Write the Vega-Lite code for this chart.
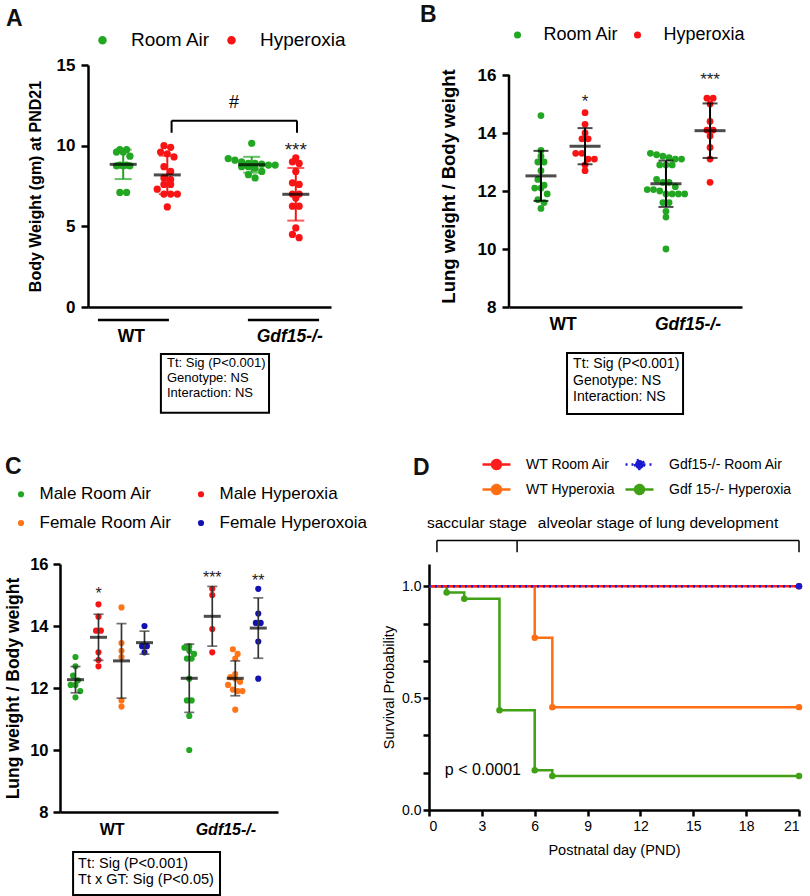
{
"$schema":"https://vega.github.io/schema/vega-lite/v6.json",
"padding":{"left":4,"top":4,"right":0,"bottom":0},
"datasets":{
"bw":[
{"genotype":"WT","treatment":"Room Air","value":9.75},{"genotype":"WT","treatment":"Room Air","value":9.75},{"genotype":"WT","treatment":"Room Air","value":9.6},{"genotype":"WT","treatment":"Room Air","value":9.6},{"genotype":"WT","treatment":"Room Air","value":9.35},{"genotype":"WT","treatment":"Room Air","value":8.8},{"genotype":"WT","treatment":"Room Air","value":8.8},{"genotype":"WT","treatment":"Room Air","value":8.75},{"genotype":"WT","treatment":"Room Air","value":8.75},{"genotype":"WT","treatment":"Room Air","value":8.75},{"genotype":"WT","treatment":"Room Air","value":7.1},{"genotype":"WT","treatment":"Room Air","value":7.1},
{"genotype":"WT","treatment":"Hyperoxia","value":10.0},{"genotype":"WT","treatment":"Hyperoxia","value":9.9},{"genotype":"WT","treatment":"Hyperoxia","value":9.6},{"genotype":"WT","treatment":"Hyperoxia","value":9.5},{"genotype":"WT","treatment":"Hyperoxia","value":9.3},{"genotype":"WT","treatment":"Hyperoxia","value":8.7},{"genotype":"WT","treatment":"Hyperoxia","value":8.4},{"genotype":"WT","treatment":"Hyperoxia","value":8.0},{"genotype":"WT","treatment":"Hyperoxia","value":7.9},{"genotype":"WT","treatment":"Hyperoxia","value":7.6},{"genotype":"WT","treatment":"Hyperoxia","value":7.6},{"genotype":"WT","treatment":"Hyperoxia","value":7.3},{"genotype":"WT","treatment":"Hyperoxia","value":7.0},{"genotype":"WT","treatment":"Hyperoxia","value":7.0},{"genotype":"WT","treatment":"Hyperoxia","value":7.0},{"genotype":"WT","treatment":"Hyperoxia","value":6.2},
{"genotype":"Gdf15-/-","treatment":"Room Air","value":10.15},{"genotype":"Gdf15-/-","treatment":"Room Air","value":9.2},{"genotype":"Gdf15-/-","treatment":"Room Air","value":9.1},{"genotype":"Gdf15-/-","treatment":"Room Air","value":9.0},{"genotype":"Gdf15-/-","treatment":"Room Air","value":8.9},{"genotype":"Gdf15-/-","treatment":"Room Air","value":8.9},{"genotype":"Gdf15-/-","treatment":"Room Air","value":8.85},{"genotype":"Gdf15-/-","treatment":"Room Air","value":8.8},{"genotype":"Gdf15-/-","treatment":"Room Air","value":8.8},{"genotype":"Gdf15-/-","treatment":"Room Air","value":8.7},{"genotype":"Gdf15-/-","treatment":"Room Air","value":8.7},{"genotype":"Gdf15-/-","treatment":"Room Air","value":8.6},{"genotype":"Gdf15-/-","treatment":"Room Air","value":8.4},{"genotype":"Gdf15-/-","treatment":"Room Air","value":8.2},{"genotype":"Gdf15-/-","treatment":"Room Air","value":8.0},
{"genotype":"Gdf15-/-","treatment":"Hyperoxia","value":9.25},{"genotype":"Gdf15-/-","treatment":"Hyperoxia","value":9.0},{"genotype":"Gdf15-/-","treatment":"Hyperoxia","value":8.9},{"genotype":"Gdf15-/-","treatment":"Hyperoxia","value":8.4},{"genotype":"Gdf15-/-","treatment":"Hyperoxia","value":7.7},{"genotype":"Gdf15-/-","treatment":"Hyperoxia","value":7.6},{"genotype":"Gdf15-/-","treatment":"Hyperoxia","value":7.0},{"genotype":"Gdf15-/-","treatment":"Hyperoxia","value":7.0},{"genotype":"Gdf15-/-","treatment":"Hyperoxia","value":6.75},{"genotype":"Gdf15-/-","treatment":"Hyperoxia","value":6.25},{"genotype":"Gdf15-/-","treatment":"Hyperoxia","value":6.25},{"genotype":"Gdf15-/-","treatment":"Hyperoxia","value":4.9},{"genotype":"Gdf15-/-","treatment":"Hyperoxia","value":4.5},{"genotype":"Gdf15-/-","treatment":"Hyperoxia","value":4.3}
],
"lw":[
{"genotype":"WT","treatment":"Room Air","value":14.6},{"genotype":"WT","treatment":"Room Air","value":13.4},{"genotype":"WT","treatment":"Room Air","value":13.2},{"genotype":"WT","treatment":"Room Air","value":13.0},{"genotype":"WT","treatment":"Room Air","value":13.0},{"genotype":"WT","treatment":"Room Air","value":12.7},{"genotype":"WT","treatment":"Room Air","value":12.4},{"genotype":"WT","treatment":"Room Air","value":12.2},{"genotype":"WT","treatment":"Room Air","value":12.1},{"genotype":"WT","treatment":"Room Air","value":12.1},{"genotype":"WT","treatment":"Room Air","value":11.9},{"genotype":"WT","treatment":"Room Air","value":11.7},{"genotype":"WT","treatment":"Room Air","value":11.6},{"genotype":"WT","treatment":"Room Air","value":11.4},
{"genotype":"WT","treatment":"Hyperoxia","value":14.7},{"genotype":"WT","treatment":"Hyperoxia","value":14.3},{"genotype":"WT","treatment":"Hyperoxia","value":14.0},{"genotype":"WT","treatment":"Hyperoxia","value":13.8},{"genotype":"WT","treatment":"Hyperoxia","value":13.8},{"genotype":"WT","treatment":"Hyperoxia","value":13.3},{"genotype":"WT","treatment":"Hyperoxia","value":13.3},{"genotype":"WT","treatment":"Hyperoxia","value":13.1},{"genotype":"WT","treatment":"Hyperoxia","value":13.1},{"genotype":"WT","treatment":"Hyperoxia","value":12.9},{"genotype":"WT","treatment":"Hyperoxia","value":12.7},
{"genotype":"Gdf15-/-","treatment":"Room Air","value":13.3},{"genotype":"Gdf15-/-","treatment":"Room Air","value":13.25},{"genotype":"Gdf15-/-","treatment":"Room Air","value":13.2},{"genotype":"Gdf15-/-","treatment":"Room Air","value":13.15},{"genotype":"Gdf15-/-","treatment":"Room Air","value":13.1},{"genotype":"Gdf15-/-","treatment":"Room Air","value":13.1},{"genotype":"Gdf15-/-","treatment":"Room Air","value":12.9},{"genotype":"Gdf15-/-","treatment":"Room Air","value":12.9},{"genotype":"Gdf15-/-","treatment":"Room Air","value":12.9},{"genotype":"Gdf15-/-","treatment":"Room Air","value":12.4},{"genotype":"Gdf15-/-","treatment":"Room Air","value":12.3},{"genotype":"Gdf15-/-","treatment":"Room Air","value":12.3},{"genotype":"Gdf15-/-","treatment":"Room Air","value":12.15},{"genotype":"Gdf15-/-","treatment":"Room Air","value":12.05},{"genotype":"Gdf15-/-","treatment":"Room Air","value":12.05},{"genotype":"Gdf15-/-","treatment":"Room Air","value":12.0},{"genotype":"Gdf15-/-","treatment":"Room Air","value":11.9},{"genotype":"Gdf15-/-","treatment":"Room Air","value":11.9},{"genotype":"Gdf15-/-","treatment":"Room Air","value":11.9},{"genotype":"Gdf15-/-","treatment":"Room Air","value":11.9},{"genotype":"Gdf15-/-","treatment":"Room Air","value":11.6},{"genotype":"Gdf15-/-","treatment":"Room Air","value":11.6},{"genotype":"Gdf15-/-","treatment":"Room Air","value":11.3},{"genotype":"Gdf15-/-","treatment":"Room Air","value":11.1},{"genotype":"Gdf15-/-","treatment":"Room Air","value":10.0},
{"genotype":"Gdf15-/-","treatment":"Hyperoxia","value":15.2},{"genotype":"Gdf15-/-","treatment":"Hyperoxia","value":15.2},{"genotype":"Gdf15-/-","treatment":"Hyperoxia","value":15.0},{"genotype":"Gdf15-/-","treatment":"Hyperoxia","value":14.4},{"genotype":"Gdf15-/-","treatment":"Hyperoxia","value":14.1},{"genotype":"Gdf15-/-","treatment":"Hyperoxia","value":14.1},{"genotype":"Gdf15-/-","treatment":"Hyperoxia","value":13.9},{"genotype":"Gdf15-/-","treatment":"Hyperoxia","value":13.5},{"genotype":"Gdf15-/-","treatment":"Hyperoxia","value":13.1},{"genotype":"Gdf15-/-","treatment":"Hyperoxia","value":12.3}
],
"lwsex":[
{"genotype":"WT","group":"Male Room Air","value":13.0},{"genotype":"WT","group":"Male Room Air","value":12.7},{"genotype":"WT","group":"Male Room Air","value":12.4},{"genotype":"WT","group":"Male Room Air","value":12.25},{"genotype":"WT","group":"Male Room Air","value":12.1},{"genotype":"WT","group":"Male Room Air","value":12.1},{"genotype":"WT","group":"Male Room Air","value":11.9},{"genotype":"WT","group":"Male Room Air","value":11.7},
{"genotype":"WT","group":"Male Hyperoxia","value":14.7},{"genotype":"WT","group":"Male Hyperoxia","value":14.3},{"genotype":"WT","group":"Male Hyperoxia","value":13.85},{"genotype":"WT","group":"Male Hyperoxia","value":13.85},{"genotype":"WT","group":"Male Hyperoxia","value":13.15},{"genotype":"WT","group":"Male Hyperoxia","value":12.9},{"genotype":"WT","group":"Male Hyperoxia","value":12.7},
{"genotype":"WT","group":"Female Room Air","value":14.6},{"genotype":"WT","group":"Female Room Air","value":13.45},{"genotype":"WT","group":"Female Room Air","value":13.2},{"genotype":"WT","group":"Female Room Air","value":13.0},{"genotype":"WT","group":"Female Room Air","value":11.6},{"genotype":"WT","group":"Female Room Air","value":11.4},
{"genotype":"WT","group":"Female Hyperoxoia","value":14.0},{"genotype":"WT","group":"Female Hyperoxoia","value":13.35},{"genotype":"WT","group":"Female Hyperoxoia","value":13.35},{"genotype":"WT","group":"Female Hyperoxoia","value":13.15},
{"genotype":"Gdf15-/-","group":"Male Room Air","value":13.35},{"genotype":"Gdf15-/-","group":"Male Room Air","value":13.3},{"genotype":"Gdf15-/-","group":"Male Room Air","value":13.2},{"genotype":"Gdf15-/-","group":"Male Room Air","value":13.1},{"genotype":"Gdf15-/-","group":"Male Room Air","value":12.95},{"genotype":"Gdf15-/-","group":"Male Room Air","value":12.95},{"genotype":"Gdf15-/-","group":"Male Room Air","value":12.3},{"genotype":"Gdf15-/-","group":"Male Room Air","value":11.6},{"genotype":"Gdf15-/-","group":"Male Room Air","value":11.6},{"genotype":"Gdf15-/-","group":"Male Room Air","value":11.1},{"genotype":"Gdf15-/-","group":"Male Room Air","value":10.0},
{"genotype":"Gdf15-/-","group":"Male Hyperoxia","value":15.2},{"genotype":"Gdf15-/-","group":"Male Hyperoxia","value":15.0},{"genotype":"Gdf15-/-","group":"Male Hyperoxia","value":13.9},{"genotype":"Gdf15-/-","group":"Male Hyperoxia","value":13.15},
{"genotype":"Gdf15-/-","group":"Female Room Air","value":13.25},{"genotype":"Gdf15-/-","group":"Female Room Air","value":13.1},{"genotype":"Gdf15-/-","group":"Female Room Air","value":12.95},{"genotype":"Gdf15-/-","group":"Female Room Air","value":12.45},{"genotype":"Gdf15-/-","group":"Female Room Air","value":12.35},{"genotype":"Gdf15-/-","group":"Female Room Air","value":12.3},{"genotype":"Gdf15-/-","group":"Female Room Air","value":12.2},{"genotype":"Gdf15-/-","group":"Female Room Air","value":12.1},{"genotype":"Gdf15-/-","group":"Female Room Air","value":11.95},{"genotype":"Gdf15-/-","group":"Female Room Air","value":11.9},{"genotype":"Gdf15-/-","group":"Female Room Air","value":11.9},{"genotype":"Gdf15-/-","group":"Female Room Air","value":11.3},
{"genotype":"Gdf15-/-","group":"Female Hyperoxoia","value":15.2},{"genotype":"Gdf15-/-","group":"Female Hyperoxoia","value":14.4},{"genotype":"Gdf15-/-","group":"Female Hyperoxoia","value":14.1},{"genotype":"Gdf15-/-","group":"Female Hyperoxoia","value":14.1},{"genotype":"Gdf15-/-","group":"Female Hyperoxoia","value":13.5},{"genotype":"Gdf15-/-","group":"Female Hyperoxoia","value":12.3}
],
"surv":[
{"group":"WT Hyperoxia","day":0,"surv":1},{"group":"WT Hyperoxia","day":6,"surv":0.77},{"group":"WT Hyperoxia","day":7,"surv":0.46},{"group":"WT Hyperoxia","day":21,"surv":0.46},
{"group":"Gdf 15-/- Hyperoxia","day":0,"surv":1},{"group":"Gdf 15-/- Hyperoxia","day":1,"surv":0.973},{"group":"Gdf 15-/- Hyperoxia","day":2,"surv":0.945},{"group":"Gdf 15-/- Hyperoxia","day":4,"surv":0.446},{"group":"Gdf 15-/- Hyperoxia","day":6,"surv":0.178},{"group":"Gdf 15-/- Hyperoxia","day":7,"surv":0.152},{"group":"Gdf 15-/- Hyperoxia","day":21,"surv":0.152},
{"group":"WT Room Air","day":0,"surv":1},{"group":"WT Room Air","day":21,"surv":1},
{"group":"Gdf15-/- Room Air","day":0,"surv":1},{"group":"Gdf15-/- Room Air","day":21,"surv":1}
]
},
"columns":1,
"spacing":40,
"align":"none",
"resolve":{"scale":{"color":"independent","strokeDash":"independent"},"legend":{"color":"independent","strokeDash":"independent"}},
"concat":[
{"columns":2,"spacing":74,"align":"none",
"resolve":{"scale":{"color":"independent","strokeDash":"independent"},"legend":{"color":"independent","strokeDash":"independent"}},
"concat":[
{
"width":243,"height":242,
"title":{"text":"A","dx":-82,"offset":0},
"resolve":{"scale":{"x":"independent"}},
"layer":[
{"data":{"name":"bw"},
"encoding":{"x":{"field":"genotype","type":"nominal","scale":{"domain":["WT","Gdf15-/-"],"paddingInner":0.284,"paddingOuter":0.0875},"axis":{"title":null,"ticks":false,"tickSize":0,"labelAngle":0,"labelPadding":20,"labelFontSize":17.5,"labelFontWeight":"bold","labelFontStyle":{"condition":{"test":"datum.value=='Gdf15-/-'","value":"italic"},"value":"normal"},"labelOffset":{"condition":{"test":"datum.value=='WT'","value":-14},"value":16},"domainWidth":2.5}}},
"layer":[
{"transform":[{"calculate":"datum.value","as":"v"},{"calculate":"round(datum.value/0.45)","as":"yb"},{"window":[{"op":"row_number","as":"rk"},{"op":"count","as":"nb"}],"groupby":["genotype","treatment","yb"],"frame":[null,null]},{"calculate":"(datum.treatment=='Room Air'?-23:23)+(datum.rk-(datum.nb+1)/2)*7","as":"xo"}],
"mark":{"type":"circle","size":52,"opacity":1},
"encoding":{"xOffset":{"field":"xo","type":"quantitative","scale":{"domain":[-46,46]}},
"y":{"field":"v","type":"quantitative","scale":{"domain":[0,15],"nice":false},"axis":{"values":[0,5,10,15],"title":"Body Weight (gm) at PND21","titleFontSize":16,"titleFontWeight":"bold","titlePadding":13,"labelFontSize":17,"labelFontWeight":"bold","labelPadding":6,"tickSize":7,"tickWidth":2.5,"domainWidth":2.5}},
"color":{"field":"treatment","type":"nominal","scale":{"domain":["Room Air","Hyperoxia"],"range":["#22a722","#f81414"]},"legend":{"orient":"none","legendX":5,"legendY":-34.5,"direction":"horizontal","title":null,"symbolType":"circle","symbolSize":50,"labelFontSize":19,"labelOffset":19,"columnPadding":11}}}},
{"transform":[{"aggregate":[{"op":"mean","field":"value","as":"m"},{"op":"stdev","field":"value","as":"sd"}],"groupby":["genotype","treatment"]},{"calculate":"datum.m-datum.sd","as":"v"},{"calculate":"datum.m+datum.sd","as":"hi"},{"calculate":"datum.treatment=='Room Air'?-23:23","as":"xo"}],
"mark":{"type":"rule","strokeWidth":2},
"encoding":{"xOffset":{"field":"xo","type":"quantitative","scale":{"domain":[-46,46]}},"y":{"field":"v","type":"quantitative","scale":{"domain":[0,15],"nice":false},"axis":{"values":[0,5,10,15],"title":"Body Weight (gm) at PND21","titleFontSize":16,"titleFontWeight":"bold","titlePadding":13,"labelFontSize":17,"labelFontWeight":"bold","labelPadding":6,"tickSize":7,"tickWidth":2.5,"domainWidth":2.5}},"y2":{"field":"hi"},"color":{"field":"treatment","type":"nominal"}}},
{"transform":[{"aggregate":[{"op":"mean","field":"value","as":"m"},{"op":"stdev","field":"value","as":"sd"}],"groupby":["genotype","treatment"]},{"calculate":"datum.m-datum.sd","as":"lo"},{"calculate":"datum.m+datum.sd","as":"hi"},{"fold":["lo","hi"],"as":["k","v"]},{"calculate":"datum.treatment=='Room Air'?-23:23","as":"xo"}],
"mark":{"type":"tick","size":17,"thickness":2},
"encoding":{"xOffset":{"field":"xo","type":"quantitative","scale":{"domain":[-46,46]}},"y":{"field":"v","type":"quantitative","scale":{"domain":[0,15],"nice":false},"axis":{"values":[0,5,10,15],"title":"Body Weight (gm) at PND21","titleFontSize":16,"titleFontWeight":"bold","titlePadding":13,"labelFontSize":17,"labelFontWeight":"bold","labelPadding":6,"tickSize":7,"tickWidth":2.5,"domainWidth":2.5}},"color":{"field":"treatment","type":"nominal"}}},
{"transform":[{"aggregate":[{"op":"mean","field":"value","as":"v"}],"groupby":["genotype","treatment"]},{"calculate":"datum.treatment=='Room Air'?-23:23","as":"xo"}],
"mark":{"type":"tick","size":27,"thickness":3,"color":"#000"},
"encoding":{"xOffset":{"field":"xo","type":"quantitative","scale":{"domain":[-46,46]}},"y":{"field":"v","type":"quantitative","scale":{"domain":[0,15],"nice":false},"axis":{"values":[0,5,10,15],"title":"Body Weight (gm) at PND21","titleFontSize":16,"titleFontWeight":"bold","titlePadding":13,"labelFontSize":17,"labelFontWeight":"bold","labelPadding":6,"tickSize":7,"tickWidth":2.5,"domainWidth":2.5}}}},
{"data":{"values":[{}]},
"mark":{"type":"text","fontSize":19,"baseline":"middle","text":"***","color":"#222"},
"encoding":{"x":{"datum":"Gdf15-/-","type":"nominal"},"xOffset":{"datum":23,"type":"quantitative","scale":{"domain":[-46,46]}},"y":{"datum":9.73,"type":"quantitative","scale":{"domain":[0,15],"nice":false}}}}
]},
{"data":{"values":[{}]},
"layer":[
{"mark":{"type":"rule","strokeWidth":2.5,"color":"#000"},"encoding":{"x":{"datum":0.041,"type":"quantitative","scale":{"domain":[0,1]},"axis":null},"x2":{"datum":0.333},"y":{"datum":-0.8,"type":"quantitative","scale":{"domain":[0,15],"nice":false}}}},
{"mark":{"type":"rule","strokeWidth":2.5,"color":"#000"},"encoding":{"x":{"datum":0.658,"type":"quantitative","scale":{"domain":[0,1]},"axis":null},"x2":{"datum":0.951},"y":{"datum":-0.8,"type":"quantitative","scale":{"domain":[0,15],"nice":false}}}},
{"mark":{"type":"rect","filled":false,"color":"#000","strokeWidth":2},"encoding":{"x":{"datum":0.300,"type":"quantitative","scale":{"domain":[0,1]},"axis":null},"x2":{"datum":0.745},"y":{"datum":-2.91,"type":"quantitative","scale":{"domain":[0,15],"nice":false}},"y2":{"datum":-6.55}}},
{"mark":{"type":"text","align":"left","baseline":"top","fontSize":13,"lineHeight":15,"text":["Tt: Sig (P<0.001)","Genotype: NS","Interaction: NS"]},"encoding":{"x":{"datum":0.325,"type":"quantitative","scale":{"domain":[0,1]},"axis":null},"y":{"datum":-3.12,"type":"quantitative","scale":{"domain":[0,15],"nice":false}}}},
{"mark":{"type":"rule","strokeWidth":2,"color":"#000"},"encoding":{"x":{"datum":0.344,"type":"quantitative","scale":{"domain":[0,1]},"axis":null},"x2":{"datum":0.86},"y":{"datum":11.55,"type":"quantitative","scale":{"domain":[0,15],"nice":false}}}},
{"mark":{"type":"rule","strokeWidth":2,"color":"#000"},"encoding":{"x":{"datum":0.344,"type":"quantitative","scale":{"domain":[0,1]},"axis":null},"y":{"datum":10.8,"type":"quantitative","scale":{"domain":[0,15],"nice":false}},"y2":{"datum":11.55}}},
{"mark":{"type":"rule","strokeWidth":2,"color":"#000"},"encoding":{"x":{"datum":0.86,"type":"quantitative","scale":{"domain":[0,1]},"axis":null},"y":{"datum":10.8,"type":"quantitative","scale":{"domain":[0,15],"nice":false}},"y2":{"datum":11.55}}},
{"mark":{"type":"text","fontSize":18,"baseline":"middle","align":"center","text":"#"},"encoding":{"x":{"datum":0.601,"type":"quantitative","scale":{"domain":[0,1]},"axis":null},"y":{"datum":12.65,"type":"quantitative","scale":{"domain":[0,15],"nice":false}}}}
]}
]
},
{
"width":233,"height":242,
"title":{"text":"B","dx":-89,"offset":-1},
"resolve":{"scale":{"x":"independent"}},
"layer":[
{"data":{"name":"lw"},
"encoding":{"x":{"field":"genotype","type":"nominal","scale":{"domain":["WT","Gdf15-/-"],"paddingInner":0.264,"paddingOuter":0.064},"axis":{"title":null,"ticks":false,"tickSize":0,"labelAngle":0,"labelPadding":8,"labelFontSize":17.5,"labelFontWeight":"bold","labelFontStyle":{"condition":{"test":"datum.value=='Gdf15-/-'","value":"italic"},"value":"normal"},"domainWidth":2.5}}},
"layer":[
{"transform":[{"calculate":"datum.value","as":"v"},{"calculate":"round(datum.value/0.3)","as":"yb"},{"window":[{"op":"row_number","as":"rk"},{"op":"count","as":"nb"}],"groupby":["genotype","treatment","yb"],"frame":[null,null]},{"calculate":"(datum.treatment=='Room Air'?-23:23)+(datum.rk-(datum.nb+1)/2)*6.5","as":"xo"}],
"mark":{"type":"circle","size":46,"opacity":1},
"encoding":{"xOffset":{"field":"xo","type":"quantitative","scale":{"domain":[-46,46]}},
"y":{"field":"v","type":"quantitative","scale":{"domain":[8,16.345],"nice":false,"zero":false},"axis":{"values":[8,10,12,14,16],"domain":false,"title":"Lung weight / Body weight","titleFontSize":18.5,"titleFontWeight":"bold","titlePadding":19,"labelFontSize":17,"labelFontWeight":"bold","labelPadding":6,"tickSize":7,"tickWidth":2.5}},
"color":{"field":"treatment","type":"nominal","scale":{"domain":["Room Air","Hyperoxia"],"range":["#22a722","#f81414"]},"legend":{"orient":"none","legendX":-0.5,"legendY":-39,"direction":"horizontal","title":null,"symbolType":"circle","symbolSize":50,"labelFontSize":18,"labelOffset":17,"columnPadding":9}}}},
{"transform":[{"aggregate":[{"op":"mean","field":"value","as":"m"},{"op":"stdev","field":"value","as":"sd"}],"groupby":["genotype","treatment"]},{"calculate":"datum.m-datum.sd","as":"v"},{"calculate":"datum.m+datum.sd","as":"hi"},{"calculate":"datum.treatment=='Room Air'?-23:23","as":"xo"}],
"mark":{"type":"rule","strokeWidth":2,"color":"#000"},
"encoding":{"xOffset":{"field":"xo","type":"quantitative","scale":{"domain":[-46,46]}},"y":{"field":"v","type":"quantitative","scale":{"domain":[8,16.345],"nice":false,"zero":false},"axis":{"values":[8,10,12,14,16],"domain":false,"title":"Lung weight / Body weight","titleFontSize":18.5,"titleFontWeight":"bold","titlePadding":19,"labelFontSize":17,"labelFontWeight":"bold","labelPadding":6,"tickSize":7,"tickWidth":2.5}},"y2":{"field":"hi"}}},
{"transform":[{"aggregate":[{"op":"mean","field":"value","as":"m"},{"op":"stdev","field":"value","as":"sd"}],"groupby":["genotype","treatment"]},{"calculate":"datum.m-datum.sd","as":"lo"},{"calculate":"datum.m+datum.sd","as":"hi"},{"fold":["lo","hi"],"as":["k","v"]},{"calculate":"datum.treatment=='Room Air'?-23:23","as":"xo"}],
"mark":{"type":"tick","size":15,"thickness":2,"color":"#000"},
"encoding":{"xOffset":{"field":"xo","type":"quantitative","scale":{"domain":[-46,46]}},"y":{"field":"v","type":"quantitative","scale":{"domain":[8,16.345],"nice":false,"zero":false},"axis":{"values":[8,10,12,14,16],"domain":false,"title":"Lung weight / Body weight","titleFontSize":18.5,"titleFontWeight":"bold","titlePadding":19,"labelFontSize":17,"labelFontWeight":"bold","labelPadding":6,"tickSize":7,"tickWidth":2.5}}}},
{"transform":[{"aggregate":[{"op":"mean","field":"value","as":"v"}],"groupby":["genotype","treatment"]},{"calculate":"datum.treatment=='Room Air'?-23:23","as":"xo"}],
"mark":{"type":"tick","size":31,"thickness":3,"color":"#000"},
"encoding":{"xOffset":{"field":"xo","type":"quantitative","scale":{"domain":[-46,46]}},"y":{"field":"v","type":"quantitative","scale":{"domain":[8,16.345],"nice":false,"zero":false},"axis":{"values":[8,10,12,14,16],"domain":false,"title":"Lung weight / Body weight","titleFontSize":18.5,"titleFontWeight":"bold","titlePadding":19,"labelFontSize":17,"labelFontWeight":"bold","labelPadding":6,"tickSize":7,"tickWidth":2.5}}}},
{"data":{"values":[{}]},
"mark":{"type":"text","fontSize":17,"baseline":"middle","text":"*","color":"#222"},
"encoding":{"x":{"datum":"WT","type":"nominal"},"xOffset":{"datum":23,"type":"quantitative","scale":{"domain":[-46,46]}},"y":{"datum":15.08,"type":"quantitative","scale":{"domain":[8,16.345],"nice":false,"zero":false}}}},
{"data":{"values":[{}]},
"mark":{"type":"text","fontSize":17,"baseline":"middle","text":"***","color":"#222"},
"encoding":{"x":{"datum":"Gdf15-/-","type":"nominal"},"xOffset":{"datum":23,"type":"quantitative","scale":{"domain":[-46,46]}},"y":{"datum":15.83,"type":"quantitative","scale":{"domain":[8,16.345],"nice":false,"zero":false}}}}
]},
{"data":{"values":[{}]},
"layer":[
{"mark":{"type":"rule","strokeWidth":2.5,"color":"#000"},"encoding":{"x":{"datum":0,"type":"quantitative","scale":{"domain":[0,1]},"axis":null},"y":{"datum":8,"type":"quantitative","scale":{"domain":[8,16.345],"nice":false,"zero":false}},"y2":{"datum":16}}},
{"mark":{"type":"rect","filled":false,"color":"#000","strokeWidth":2},"encoding":{"x":{"datum":0.249,"type":"quantitative","scale":{"domain":[0,1]},"axis":null},"x2":{"datum":0.747},"y":{"datum":6.414,"type":"quantitative","scale":{"domain":[8,16.345],"nice":false,"zero":false}},"y2":{"datum":4.31}}},
{"mark":{"type":"text","align":"left","baseline":"top","fontSize":14,"lineHeight":16.5,"text":["Tt: Sig (P<0.001)","Genotype: NS","Interaction: NS"]},"encoding":{"x":{"datum":0.275,"type":"quantitative","scale":{"domain":[0,1]},"axis":null},"y":{"datum":6.27,"type":"quantitative","scale":{"domain":[8,16.345],"nice":false,"zero":false}}}}
]}
]
}
]},
{"columns":2,"spacing":13,"align":"none",
"resolve":{"scale":{"color":"independent","strokeDash":"independent"},"legend":{"color":"independent","strokeDash":"independent"}},
"concat":[
{
"width":190,"height":248,
"title":{"text":"C","dx":-83,"offset":6.5},
"resolve":{"scale":{"x":"independent"}},
"layer":[
{"data":{"name":"lwsex"},
"encoding":{"x":{"field":"genotype","type":"nominal","scale":{"domain":["WT","Gdf15-/-"],"range":[-28,190],"paddingInner":0.154,"paddingOuter":0.035},"axis":{"title":null,"ticks":false,"tickSize":0,"labelAngle":0,"labelPadding":9,"labelFontSize":16,"labelFontWeight":"bold","labelFontStyle":{"condition":{"test":"datum.value=='Gdf15-/-'","value":"italic"},"value":"normal"},"domainWidth":2.5}}},
"layer":[
{"transform":[{"calculate":"datum.value","as":"v"},{"calculate":"round(datum.value/0.3)","as":"yb"},{"window":[{"op":"row_number","as":"rk"},{"op":"count","as":"nb"}],"groupby":["genotype","group","yb"],"frame":[null,null]},{"calculate":"indexof(['Male Room Air','Male Hyperoxia','Female Room Air','Female Hyperoxoia'],datum.group)*24-36+(datum.rk-(datum.nb+1)/2)*5","as":"xo"}],
"mark":{"type":"circle","size":38,"opacity":1},
"encoding":{"xOffset":{"field":"xo","type":"quantitative","scale":{"domain":[-48,48]}},
"y":{"field":"v","type":"quantitative","scale":{"domain":[8,16],"nice":false,"zero":false},"axis":{"values":[8,10,12,14,16],"offset":28,"title":"Lung weight / Body weight","titleFontSize":17.5,"titleFontWeight":"bold","titlePadding":7,"labelFontSize":16.5,"labelFontWeight":"bold","labelPadding":5,"tickSize":7,"tickWidth":2.5,"domainWidth":2.5}},
"color":{"field":"group","type":"nominal","scale":{"domain":["Male Room Air","Female Room Air","Male Hyperoxia","Female Hyperoxoia"],"range":["#22a722","#ff7518","#f81414","#1212b0"]},"legend":{"orient":"none","legendX":-75.5,"legendY":-78.5,"columns":2,"title":null,"symbolType":"circle","symbolSize":38,"labelFontSize":17,"labelOffset":10,"columnPadding":20,"rowPadding":11}}}},
{"transform":[{"aggregate":[{"op":"mean","field":"value","as":"m"},{"op":"stdev","field":"value","as":"sd"}],"groupby":["genotype","group"]},{"calculate":"datum.m-datum.sd","as":"v"},{"calculate":"datum.m+datum.sd","as":"hi"},{"calculate":"indexof(['Male Room Air','Male Hyperoxia','Female Room Air','Female Hyperoxoia'],datum.group)*24-36","as":"xo"}],
"mark":{"type":"rule","strokeWidth":1.7,"color":"#333"},
"encoding":{"xOffset":{"field":"xo","type":"quantitative","scale":{"domain":[-48,48]}},"y":{"field":"v","type":"quantitative","scale":{"domain":[8,16],"nice":false,"zero":false},"axis":{"values":[8,10,12,14,16],"offset":28,"title":"Lung weight / Body weight","titleFontSize":17.5,"titleFontWeight":"bold","titlePadding":7,"labelFontSize":16.5,"labelFontWeight":"bold","labelPadding":5,"tickSize":7,"tickWidth":2.5,"domainWidth":2.5}},"y2":{"field":"hi"}}},
{"transform":[{"aggregate":[{"op":"mean","field":"value","as":"m"},{"op":"stdev","field":"value","as":"sd"}],"groupby":["genotype","group"]},{"calculate":"datum.m-datum.sd","as":"lo"},{"calculate":"datum.m+datum.sd","as":"hi"},{"fold":["lo","hi"],"as":["k","v"]},{"calculate":"indexof(['Male Room Air','Male Hyperoxia','Female Room Air','Female Hyperoxoia'],datum.group)*24-36","as":"xo"}],
"mark":{"type":"tick","size":10,"thickness":1.7,"color":"#333"},
"encoding":{"xOffset":{"field":"xo","type":"quantitative","scale":{"domain":[-48,48]}},"y":{"field":"v","type":"quantitative","scale":{"domain":[8,16],"nice":false,"zero":false},"axis":{"values":[8,10,12,14,16],"offset":28,"title":"Lung weight / Body weight","titleFontSize":17.5,"titleFontWeight":"bold","titlePadding":7,"labelFontSize":16.5,"labelFontWeight":"bold","labelPadding":5,"tickSize":7,"tickWidth":2.5,"domainWidth":2.5}}}},
{"transform":[{"aggregate":[{"op":"mean","field":"value","as":"v"}],"groupby":["genotype","group"]},{"calculate":"indexof(['Male Room Air','Male Hyperoxia','Female Room Air','Female Hyperoxoia'],datum.group)*24-36","as":"xo"}],
"mark":{"type":"tick","size":17,"thickness":3,"color":"#000"},
"encoding":{"xOffset":{"field":"xo","type":"quantitative","scale":{"domain":[-48,48]}},"y":{"field":"v","type":"quantitative","scale":{"domain":[8,16],"nice":false,"zero":false},"axis":{"values":[8,10,12,14,16],"offset":28,"title":"Lung weight / Body weight","titleFontSize":17.5,"titleFontWeight":"bold","titlePadding":7,"labelFontSize":16.5,"labelFontWeight":"bold","labelPadding":5,"tickSize":7,"tickWidth":2.5,"domainWidth":2.5}}}},
{"data":{"values":[{}]},"mark":{"type":"text","fontSize":16,"baseline":"middle","text":"*","color":"#222"},
"encoding":{"x":{"datum":"WT","type":"nominal"},"xOffset":{"datum":-12,"type":"quantitative","scale":{"domain":[-48,48]}},"y":{"datum":15.02,"type":"quantitative","scale":{"domain":[8,16],"nice":false,"zero":false}}}},
{"data":{"values":[{}]},"mark":{"type":"text","fontSize":16,"baseline":"middle","text":"***","color":"#222"},
"encoding":{"x":{"datum":"Gdf15-/-","type":"nominal"},"xOffset":{"datum":-12,"type":"quantitative","scale":{"domain":[-48,48]}},"y":{"datum":15.56,"type":"quantitative","scale":{"domain":[8,16],"nice":false,"zero":false}}}},
{"data":{"values":[{}]},"mark":{"type":"text","fontSize":16,"baseline":"middle","text":"**","color":"#222"},
"encoding":{"x":{"datum":"Gdf15-/-","type":"nominal"},"xOffset":{"datum":36,"type":"quantitative","scale":{"domain":[-48,48]}},"y":{"datum":15.45,"type":"quantitative","scale":{"domain":[8,16],"nice":false,"zero":false}}}}
]},
{"data":{"values":[{}]},
"layer":[
{"mark":{"type":"rect","filled":false,"color":"#000","strokeWidth":2},"encoding":{"x":{"datum":0.06,"type":"quantitative","scale":{"domain":[0,1],"range":[-28,190]},"axis":null},"x2":{"datum":0.734},"y":{"datum":6.71,"type":"quantitative","scale":{"domain":[8,16],"nice":false,"zero":false}},"y2":{"datum":5.32}}},
{"mark":{"type":"text","align":"left","baseline":"top","fontSize":14.5,"lineHeight":16,"text":["Tt: Sig (P<0.001)","Tt x GT: Sig (P<0.05)"]},"encoding":{"x":{"datum":0.083,"type":"quantitative","scale":{"domain":[0,1],"range":[-28,190]},"axis":null},"y":{"datum":6.55,"type":"quantitative","scale":{"domain":[8,16],"nice":false,"zero":false}}}}
]}
]
},
{
"width":370,"height":246,
"title":{"text":"D","dx":-16,"dy":24,"offset":0},
"layer":[
{"data":{"name":"surv"},
"mark":{"type":"line","interpolate":"step-after","strokeWidth":2.5},
"encoding":{"x":{"field":"day","type":"quantitative","scale":{"domain":[0,21],"nice":false,"zero":false},"axis":{"values":[0,3,6,9,12,15,18,21],"title":"Postnatal day (PND)","titleFontSize":14.5,"titleFontWeight":"normal","titlePadding":10,"labelFontSize":14,"labelPadding":3,"tickSize":6,"tickWidth":2.5,"domainWidth":2.5}},
"y":{"field":"surv","type":"quantitative","scale":{"domain":[0,1.1],"nice":false},"axis":{"values":[0,0.16667,0.33333,0.5,0.66667,0.83333,1],"labelExpr":"(datum.value==0||datum.value==0.5||datum.value==1) ? format(datum.value,'.1f') : ''","title":"Survival Probability","titleFontSize":14.5,"titleFontWeight":"normal","titlePadding":5,"labelFontSize":14,"labelPadding":2,"tickSize":6,"tickWidth":2.5,"domainWidth":2.5}},
"color":{"field":"group","type":"nominal","scale":{"domain":["WT Room Air","WT Hyperoxia","Gdf15-/- Room Air","Gdf 15-/- Hyperoxia"],"range":["#ff1c1c","#ff6e12","#1a1ad0","#40a016"]},"legend":{"orient":"none","legendX":59,"legendY":-108,"columns":2,"title":null,"symbolType":"M-2,0L2,0M0.64,0A0.64,0.64,0,1,1,-0.64,0A0.64,0.64,0,1,1,0.64,0","symbolSize":196,"symbolStrokeWidth":2.5,"labelFontSize":14,"labelOffset":21,"columnPadding":5,"rowPadding":6}},
"strokeDash":{"field":"group","type":"nominal","scale":{"domain":["WT Room Air","WT Hyperoxia","Gdf15-/- Room Air","Gdf 15-/- Hyperoxia"],"range":[[1,0],[1,0],[2,4],[1,0]]},"legend":{"orient":"none","legendX":59,"legendY":-108,"columns":2,"title":null,"symbolType":"M-2,0L2,0M0.64,0A0.64,0.64,0,1,1,-0.64,0A0.64,0.64,0,1,1,0.64,0","symbolSize":196,"symbolStrokeWidth":2.5,"labelFontSize":14,"labelOffset":21,"columnPadding":5,"rowPadding":6}}}},
{"data":{"name":"surv"},"transform":[{"filter":"datum.day>0"}],
"mark":{"type":"circle","size":42,"opacity":1},
"encoding":{"x":{"field":"day","type":"quantitative","scale":{"domain":[0,21],"nice":false,"zero":false}},"y":{"field":"surv","type":"quantitative","scale":{"domain":[0,1.1],"nice":false}},"color":{"field":"group","type":"nominal"}}},
{"data":{"values":[{}]},
"layer":[
{"mark":{"type":"rule","strokeWidth":1.5,"color":"#000"},"encoding":{"x":{"datum":0.45,"type":"quantitative","scale":{"domain":[0,21],"nice":false,"zero":false}},"x2":{"datum":21},"y":{"datum":1.205,"type":"quantitative","scale":{"domain":[0,1.1],"nice":false}}}},
{"mark":{"type":"rule","strokeWidth":1.5,"color":"#000"},"encoding":{"x":{"datum":0.45,"type":"quantitative","scale":{"domain":[0,21],"nice":false,"zero":false}},"y":{"datum":1.152,"type":"quantitative","scale":{"domain":[0,1.1],"nice":false}},"y2":{"datum":1.205}}},
{"mark":{"type":"rule","strokeWidth":1.5,"color":"#000"},"encoding":{"x":{"datum":5,"type":"quantitative","scale":{"domain":[0,21],"nice":false,"zero":false}},"y":{"datum":1.152,"type":"quantitative","scale":{"domain":[0,1.1],"nice":false}},"y2":{"datum":1.205}}},
{"mark":{"type":"rule","strokeWidth":1.5,"color":"#000"},"encoding":{"x":{"datum":21,"type":"quantitative","scale":{"domain":[0,21],"nice":false,"zero":false}},"y":{"datum":1.152,"type":"quantitative","scale":{"domain":[0,1.1],"nice":false}},"y2":{"datum":1.205}}},
{"mark":{"type":"text","fontSize":15.5,"align":"center","baseline":"middle","text":"saccular stage"},"encoding":{"x":{"datum":2.72,"type":"quantitative","scale":{"domain":[0,21],"nice":false,"zero":false}},"y":{"datum":1.285,"type":"quantitative","scale":{"domain":[0,1.1],"nice":false}}}},
{"mark":{"type":"text","fontSize":15.5,"align":"center","baseline":"middle","text":"alveolar stage of lung development"},"encoding":{"x":{"datum":13.0,"type":"quantitative","scale":{"domain":[0,21],"nice":false,"zero":false}},"y":{"datum":1.285,"type":"quantitative","scale":{"domain":[0,1.1],"nice":false}}}},
{"mark":{"type":"text","fontSize":16,"align":"left","baseline":"middle","text":"p < 0.0001"},"encoding":{"x":{"datum":0.9,"type":"quantitative","scale":{"domain":[0,21],"nice":false,"zero":false}},"y":{"datum":0.18,"type":"quantitative","scale":{"domain":[0,1.1],"nice":false}}}}
]}
]
}
]}
],
"config":{
"font":"Liberation Sans",
"view":{"stroke":null},
"axis":{"domainColor":"#000","tickColor":"#000","labelColor":"#000","titleColor":"#000","grid":false},
"title":{"anchor":"start","frame":"group","fontSize":23,"fontWeight":"bold","color":"#111"},
"legend":{"labelColor":"#000"},
"text":{"color":"#000"}
}
}
